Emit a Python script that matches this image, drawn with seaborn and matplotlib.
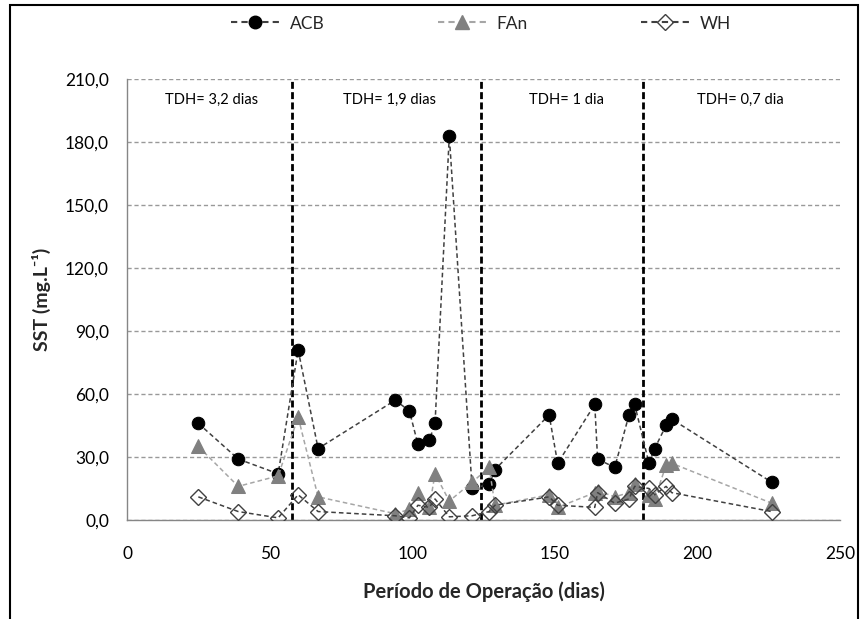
import numpy as np
import pandas as pd
import seaborn as sns
import matplotlib.pyplot as plt
from matplotlib.patches import Rectangle
from matplotlib.lines import Line2D

# data
days = [25, 39, 53, 60, 67, 94, 99, 102, 106, 108, 113, 121, 127, 129,
        148, 151, 164, 165, 171, 176, 178, 183, 185, 189, 191, 226]
acb = [46, 29, 22, 81, 34, 57, 52, 36, 38, 46, 183, 15, 17, 24,
       50, 27, 55, 29, 25, 50, 55, 27, 34, 45, 48, 18]
fan = [35, 16, 21, 49, 11, 3, 5, 13, 6, 22, 9, 18, 25, 7,
       12, 6, 13, 14, 11, 13, 17, 12, 10, 26, 27, 8]
wh = [11, 4, 1, 12, 4, 2, 1, 7, 6, 10, 1.5, 2, 4, 7,
      11, 7, 6, 13, 8, 10, 16, 15, 12, 16, 13, 4]

phase_ends = [58, 124, 181]
phase_labels = ["TDH= 3,2 dias", "TDH= 1,9 dias", "TDH= 1 dia", "TDH= 0,7 dia"]
phase_label_x = [29.5, 92, 154, 215]

df = pd.DataFrame({"dia": days, "ACB": acb, "FAn": fan, "WH": wh})

sns.set_style("white")
plt.rcParams['font.family'] = ['Lato', 'DejaVu Sans']

fig = plt.figure(figsize=(8.67, 6.19), dpi=100)
ax = fig.add_axes([0.1465, 0.16, 0.8224, 0.7124])

dash = (0, (3, 2))
sns.lineplot(data=df, x="dia", y="ACB", ax=ax, color="#404040", linestyle=dash,
             linewidth=1.1, marker="o", markersize=9, markerfacecolor="black",
             markeredgecolor="black", zorder=3)
sns.lineplot(data=df, x="dia", y="FAn", ax=ax, color="#a6a6a6", linestyle=dash,
             linewidth=1.1, marker="^", markersize=10, markerfacecolor="#808080",
             markeredgecolor="#808080", zorder=4)
sns.lineplot(data=df, x="dia", y="WH", ax=ax, color="#404040", linestyle=dash,
             linewidth=1.1, marker="D", markersize=8, markerfacecolor="none",
             markeredgecolor="#404040", markeredgewidth=1.0, zorder=5)

# phase separators
for xv in phase_ends:
    ax.axvline(xv, color="black", linestyle=(0, (2.5, 1.2)), linewidth=2, zorder=2)
for lbl, xv in zip(phase_labels, phase_label_x):
    ax.text(xv, 200, lbl, ha="center", va="center", fontsize=10.5, color="black")

ax.set_xlim(0, 250)
ax.set_ylim(0, 210)
ax.set_xticks(range(0, 251, 50))
ax.set_yticks(np.arange(0, 211, 30))
ax.set_yticklabels([f"{v:.1f}".replace(".", ",") for v in np.arange(0, 211, 30)])
ax.tick_params(axis="both", labelsize=12.5, length=5, width=1, color="#868686",
               direction="out", labelcolor="black")
ax.tick_params(axis="x", pad=14)
ax.tick_params(axis="y", pad=8)

ax.yaxis.grid(True, color="#999999", linestyle=dash, linewidth=1)
ax.xaxis.grid(False)
for s in ["top", "right"]:
    ax.spines[s].set_visible(False)
for s in ["left", "bottom"]:
    ax.spines[s].set_color("#868686")
    ax.spines[s].set_linewidth(1)

ax.set_xlabel("Período de Operação (dias)", fontsize=14.5, fontweight="bold", labelpad=14)
ax.set_ylabel("SST (mg.L⁻¹)", fontsize=14, fontweight="bold", labelpad=10)

handles = [
    Line2D([], [], color="#404040", linestyle=dash, marker="o", markersize=9,
           markerfacecolor="black", markeredgecolor="black"),
    Line2D([], [], color="#a6a6a6", linestyle=dash, marker="^", markersize=10,
           markerfacecolor="#808080", markeredgecolor="#808080"),
    Line2D([], [], color="#404040", linestyle=dash, marker="D", markersize=8,
           markerfacecolor="none", markeredgecolor="#404040"),
]
fig.legend(handles, ["ACB", "FAn", "WH"], loc="center", bbox_to_anchor=(0.555, 0.962),
           ncol=3, frameon=False, fontsize=12.5, handlelength=2.8, columnspacing=6.5,
           handletextpad=0.6)

# outer frame around the figure
fig.patches.append(Rectangle((10 / 867, -0.1), 848 / 867, 1.1 - 5 / 619,
                             transform=fig.transFigure, fill=False,
                             edgecolor="black", linewidth=1.5))

fig.savefig("out.png", dpi=100)
